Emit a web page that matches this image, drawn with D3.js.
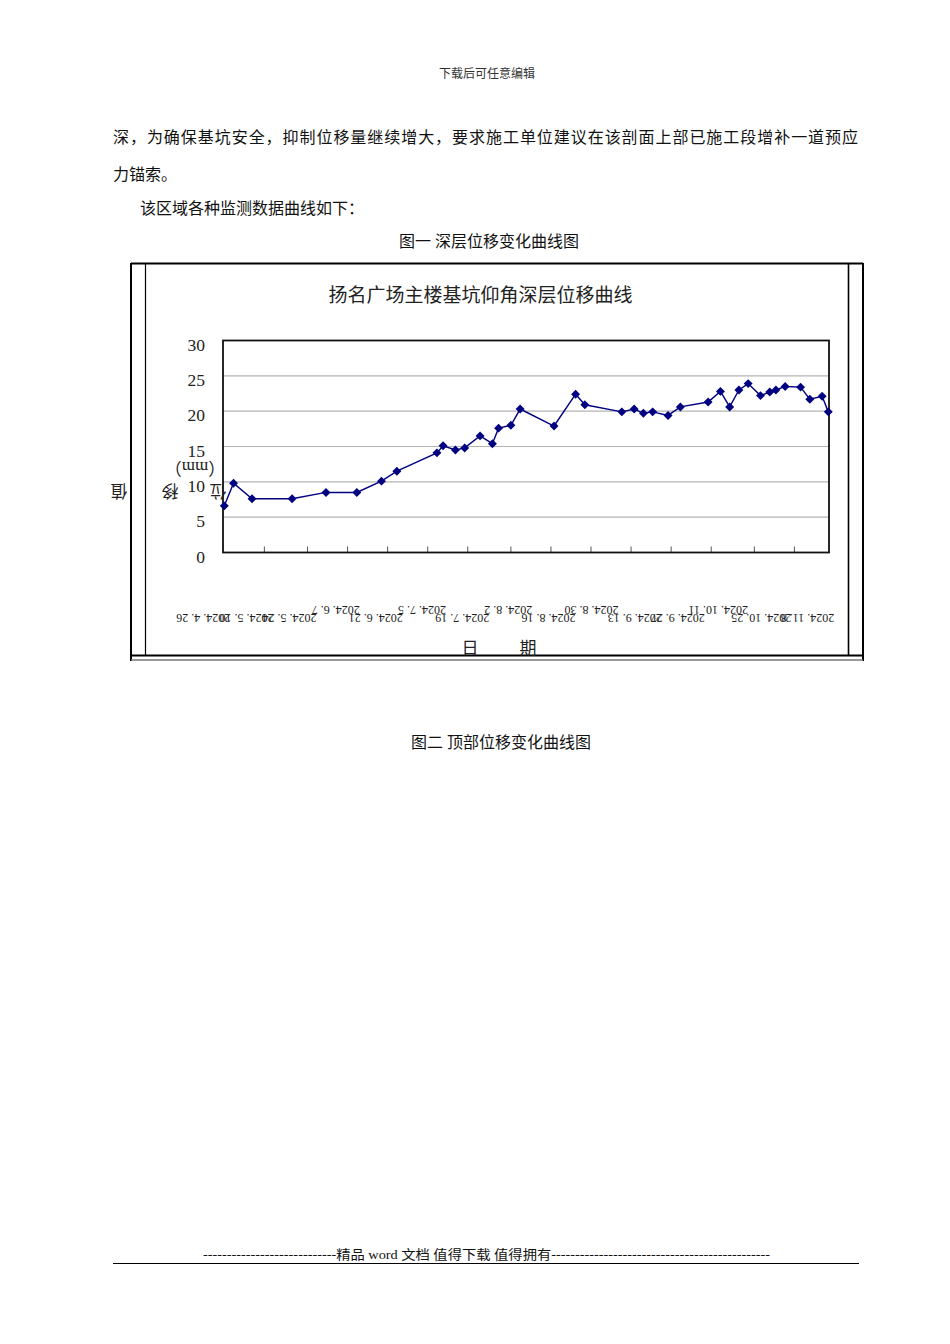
<!DOCTYPE html>
<html><head><meta charset="utf-8">
<script src="https://cdn.jsdelivr.net/npm/d3@7"></script>
<style>html,body{margin:0;padding:0;background:#fff;}svg{display:block;}</style>
</head><body>
<script>
// ---------- data ----------
const pointDates = ["2024-04-26","2024-04-29","2024-05-05","2024-05-18","2024-05-29","2024-06-08","2024-06-16","2024-06-21","2024-07-04","2024-07-06","2024-07-10","2024-07-13","2024-07-18","2024-07-22","2024-07-24","2024-07-28","2024-07-31","2024-08-11","2024-08-18","2024-08-21","2024-09-02","2024-09-06","2024-09-09","2024-09-12","2024-09-17","2024-09-21","2024-09-30","2024-10-04","2024-10-07","2024-10-10","2024-10-13","2024-10-17","2024-10-20","2024-10-22","2024-10-25","2024-10-30","2024-11-02","2024-11-06","2024-11-08"];
const displacement = [6.6,9.8,7.6,7.6,8.5,8.5,10.1,11.5,14.1,15.1,14.5,14.8,16.5,15.4,17.6,18.0,20.3,17.9,22.4,20.9,19.9,20.3,19.7,19.9,19.4,20.6,21.3,22.8,20.6,23.0,23.9,22.2,22.7,23.0,23.5,23.4,21.7,22.1,19.9];
const labelDates = ["2024-04-26","2024-05-10","2024-05-24","2024-06-07","2024-06-21","2024-07-05","2024-07-19","2024-08-02","2024-08-16","2024-08-30","2024-09-13","2024-09-27","2024-10-11","2024-10-25","2024-11-08"];
const labelTexts = ["2024. 4. 26","2024. 5. 10","2024. 5. 24","2024. 6. 7","2024. 6. 21","2024. 7. 5","2024. 7. 19","2024. 8. 2","2024. 8. 16","2024. 8. 30","2024. 9. 13","2024. 9. 27","2024. 10. 11","2024. 10. 25","2024. 11. 8"];
const raisedLabels = ["2024. 6. 7","2024. 7. 5","2024. 8. 2","2024. 8. 30","2024. 10. 11"];
const tickMarkDates = ["2024-05-09","2024-05-23","2024-06-05","2024-06-18","2024-07-01","2024-07-14","2024-07-28","2024-08-10","2024-08-23","2024-09-05","2024-09-18","2024-10-01","2024-10-15","2024-10-28"];
const yTicks = [0,5,10,15,20,25,30];
const chartTitle = "扬名广场主楼基坑仰角深层位移曲线";
const yTitleChars = ["位","移","值"];
const yUnit = "（mm）";
const xTitleChars = ["日","期"];

const parse = d3.timeParse("%Y-%m-%d");
const W = 950, H = 1344;
const svg = d3.select("body").append("svg").attr("width", W).attr("height", H);
const serif = "'Liberation Serif','Noto Sans CJK SC',serif";

// ---------- page text ----------
svg.append("text").attr("x", 487).attr("y", 78).attr("text-anchor","middle")
  .attr("font-family", serif).attr("font-size", 12).attr("fill","#333").text("下载后可任意编辑");
svg.append("text").attr("x", 113).attr("y", 142.5).attr("font-family", serif).attr("font-size", 16)
  .attr("textLength", 745).attr("lengthAdjust","spacing").attr("fill","#111")
  .text("深，为确保基坑安全，抑制位移量继续增大，要求施工单位建议在该剖面上部已施工段增补一道预应");
svg.append("text").attr("x", 113).attr("y", 179.5).attr("font-family", serif).attr("font-size", 16).attr("fill","#111").text("力锚索。");
svg.append("text").attr("x", 140).attr("y", 213.5).attr("font-family", serif).attr("font-size", 16).attr("fill","#111").text("该区域各种监测数据曲线如下：");
svg.append("text").attr("x", 489).attr("y", 246.5).attr("text-anchor","middle").attr("font-family", serif).attr("font-size", 16).attr("fill","#111").text("图一  深层位移变化曲线图");
svg.append("text").attr("x", 501).attr("y", 747.5).attr("text-anchor","middle").attr("font-family", serif).attr("font-size", 16).attr("fill","#111").text("图二 顶部位移变化曲线图");
svg.append("text").attr("x", 203).attr("y", 1258.5).attr("font-family", serif).attr("font-size", 13)
  .attr("textLength", 567).attr("lengthAdjust","spacingAndGlyphs").attr("fill","#111")
  .text("----------------------------精品 word 文档 值得下载 值得拥有----------------------------------------------");
svg.append("line").attr("x1",113).attr("x2",859).attr("y1",1263.5).attr("y2",1263.5).attr("stroke","#000").attr("stroke-width",1.2);

// ---------- frame ----------
const fr = svg.append("g").attr("fill","none");
fr.append("line").attr("x1",131).attr("x2",863).attr("y1",263.5).attr("y2",263.5).attr("stroke","#000").attr("stroke-width",2);
fr.append("line").attr("x1",131).attr("x2",131).attr("y1",263).attr("y2",661).attr("stroke","#000").attr("stroke-width",2);
fr.append("line").attr("x1",863).attr("x2",863).attr("y1",263).attr("y2",661).attr("stroke","#000").attr("stroke-width",2);
fr.append("line").attr("x1",145.5).attr("x2",145.5).attr("y1",263).attr("y2",656).attr("stroke","#000").attr("stroke-width",1.2);
fr.append("line").attr("x1",848.5).attr("x2",848.5).attr("y1",263).attr("y2",656).attr("stroke","#000").attr("stroke-width",1.6);
fr.append("line").attr("x1",131).attr("x2",863).attr("y1",655.5).attr("y2",655.5).attr("stroke","#000").attr("stroke-width",2);
fr.append("line").attr("x1",131).attr("x2",863).attr("y1",660).attr("y2",660).attr("stroke","#777").attr("stroke-width",1.5);

// ---------- chart ----------
const plot = {l:223, r:829, t:340.5, b:552.5};
const x = d3.scaleTime().domain([parse(pointDates[0]), parse(pointDates[pointDates.length-1])]).range([plot.l+1.3, plot.r-0.7]);
const y = d3.scaleLinear().domain([0,30]).range([plot.b, plot.t]);

svg.append("text").attr("x", 480.5).attr("y", 301.5).attr("text-anchor","middle")
  .attr("font-family", serif).attr("font-size", 19).attr("fill","#222").text(chartTitle);

// gridlines
svg.append("g").selectAll("line").data(yTicks.filter(v => v>0 && v<30)).join("line")
  .attr("x1", plot.l).attr("x2", plot.r).attr("y1", d=>y(d)).attr("y2", d=>y(d))
  .attr("stroke","#b4b4b4").attr("stroke-width",1.2);

// y axis labels via d3 axis
const yAxis = svg.append("g").attr("transform",`translate(${plot.l},0)`)
  .call(d3.axisLeft(y).tickValues(yTicks).tickSize(0).tickPadding(18).tickFormat(d3.format("d")));
yAxis.select(".domain").remove();
yAxis.selectAll("text").attr("font-family", serif).attr("font-size", 17.5).attr("fill","#222").attr("dy","0.55em");

// x axis tick marks (inward)
svg.append("g").selectAll("line").data(tickMarkDates).join("line")
  .attr("x1", d=>x(parse(d))).attr("x2", d=>x(parse(d)))
  .attr("y1", plot.b-6).attr("y2", plot.b).attr("stroke","#555").attr("stroke-width",1);

// plot border
svg.append("rect").attr("x",plot.l).attr("y",plot.t).attr("width",plot.r-plot.l).attr("height",plot.b-plot.t)
  .attr("fill","none").attr("stroke","#111").attr("stroke-width",1.8);

// upside-down date labels
svg.append("g").selectAll("text").data(labelDates).join("text")
  .attr("transform", (d,i) => {
    const lx = x(parse(d)) + 6;
    const ly = raisedLabels.includes(labelTexts[i]) ? 606 : 614;
    return `translate(${lx},${ly}) rotate(180)`;
  })
  .attr("text-anchor","start")
  .attr("font-family", serif).attr("font-size", 12).attr("fill","#222")
  .text((d,i) => labelTexts[i]);

// y title (rotated characters)
const ytPos = [[218,490],[170,490],[119,490]];
svg.append("g").selectAll("text").data(yTitleChars).join("text")
  .attr("transform",(d,i)=>`translate(${ytPos[i][0]},${ytPos[i][1]}) rotate(180)`)
  .attr("text-anchor","middle").attr("dominant-baseline","central")
  .attr("font-family", serif).attr("font-size", 17).attr("fill","#222").text(d=>d);
svg.append("text").attr("transform","translate(195,467) rotate(180)")
  .attr("text-anchor","middle").attr("dominant-baseline","central")
  .attr("font-family", serif).attr("font-size", 17).attr("fill","#222").text(yUnit);

// x title
const xtPos = [470, 528];
svg.append("g").selectAll("text").data(xTitleChars).join("text")
  .attr("x",(d,i)=>xtPos[i]).attr("y",654).attr("text-anchor","middle")
  .attr("font-family", serif).attr("font-size", 17).attr("fill","#222").text(d=>d);

// line + markers
const pts = pointDates.map((d,i)=>({d:parse(d), v:displacement[i]}));
svg.append("path").datum(pts)
  .attr("d", d3.line().x(p=>x(p.d)).y(p=>y(p.v)))
  .attr("fill","none").attr("stroke","#000080").attr("stroke-width",1.4);
svg.append("g").selectAll("path").data(pts).join("path")
  .attr("d", d3.symbol(d3.symbolSquare, 40))
  .attr("transform", p=>`translate(${x(p.d)},${y(p.v)}) rotate(45)`)
  .attr("fill","#000080");
</script>
</body></html>
